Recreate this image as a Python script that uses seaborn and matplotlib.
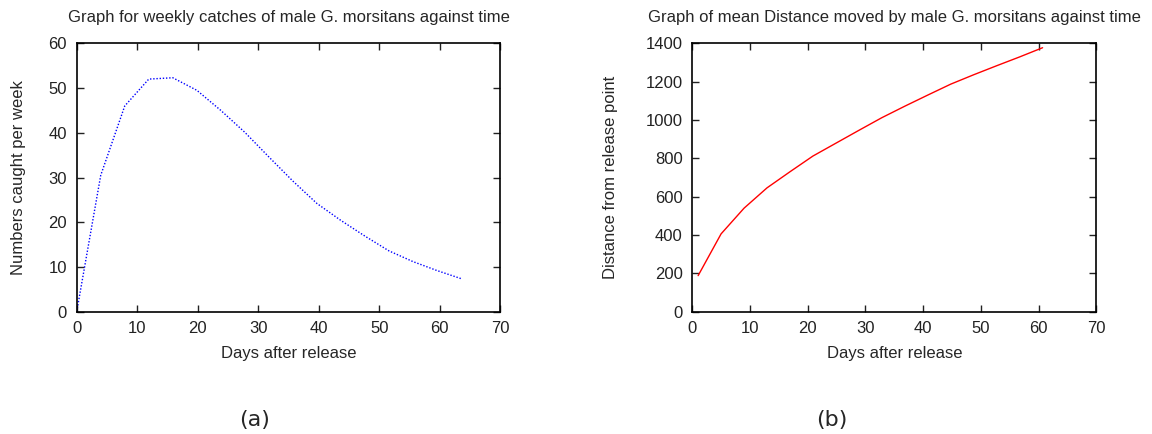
import numpy as np
import pandas as pd
import matplotlib
matplotlib.use("Agg")
import matplotlib.pyplot as plt
import seaborn as sns

# weekly catches (a)
catch_days = [0, 3.97, 7.94, 11.91, 15.88, 19.85, 23.82, 27.79, 31.76,
              35.73, 39.7, 43.67, 47.64, 51.61, 55.58, 59.55, 63.52]
catch_counts = [0, 30.5, 46.0, 52.0, 52.3, 49.5, 45.0, 40.1, 34.6,
                29.2, 24.2, 20.4, 16.9, 13.6, 11.2, 9.2, 7.4]

# mean distance moved (b)
dist_days = [1, 4.98, 8.96, 12.94, 16.92, 20.9, 24.88, 28.86, 32.84,
             36.82, 40.8, 44.78, 48.76, 52.74, 56.72, 60.7]
dist_values = [188, 406, 540, 646, 730, 812, 879, 946, 1012,
               1072, 1130, 1187, 1236, 1283, 1329, 1377]

sns.set_style("ticks")
plt.rcParams['font.family'] = ['Liberation Sans', 'DejaVu Sans']
plt.rcParams['font.size'] = 12

df_a = pd.DataFrame({'days': catch_days, 'catches': catch_counts})
df_b = pd.DataFrame({'days': dist_days, 'distance': dist_values})

fig = plt.figure(figsize=(11.52, 4.34), dpi=100)
ax1 = fig.add_axes([0.0666, 0.2818, 0.3676, 0.6184])
ax2 = fig.add_axes([0.601, 0.2818, 0.3506, 0.6184])

sns.lineplot(data=df_a, x='days', y='catches', ax=ax1, color='#0000ff',
             linewidth=1.0, linestyle=(0, (1, 1.3)))
sns.lineplot(data=df_b, x='days', y='distance', ax=ax2, color='#ff0000',
             linewidth=1.0)

ax1.set_xlim(0, 70)
ax1.set_ylim(0, 60)
ax1.set_xticks(range(0, 71, 10))
ax1.set_yticks(range(0, 61, 10))
ax1.set_title('Graph for weekly catches of male G. morsitans against time', fontsize=12, pad=15)
ax1.set_xlabel('Days after release', fontsize=12, labelpad=7)
ax1.set_ylabel('Numbers caught per week', fontsize=12, labelpad=16)

ax2.set_xlim(0, 70)
ax2.set_ylim(0, 1400)
ax2.set_xticks(range(0, 71, 10))
ax2.set_yticks(range(0, 1401, 200))
ax2.set_title('Graph of mean Distance moved by male G. morsitans against time', fontsize=12, pad=15)
ax2.set_xlabel('Days after release', fontsize=12, labelpad=7)
ax2.set_ylabel('Distance from release point', fontsize=12, labelpad=20)

for ax in (ax1, ax2):
    for s in ax.spines.values():
        s.set_visible(True)
        s.set_linewidth(1.2)
        s.set_color('black')
    ax.tick_params(direction='in', length=5, width=1, top=True, right=True,
                   labelsize=12, pad=7, colors='#222222')

fig.text(255 / 1152, 1 - 420 / 434, '(a)', ha='center', va='center',
         fontsize=16, family='DejaVu Sans')
fig.text(832 / 1152, 1 - 420 / 434, '(b)', ha='center', va='center',
         fontsize=16, family='DejaVu Sans')

fig.savefig('out.png', dpi=100)
